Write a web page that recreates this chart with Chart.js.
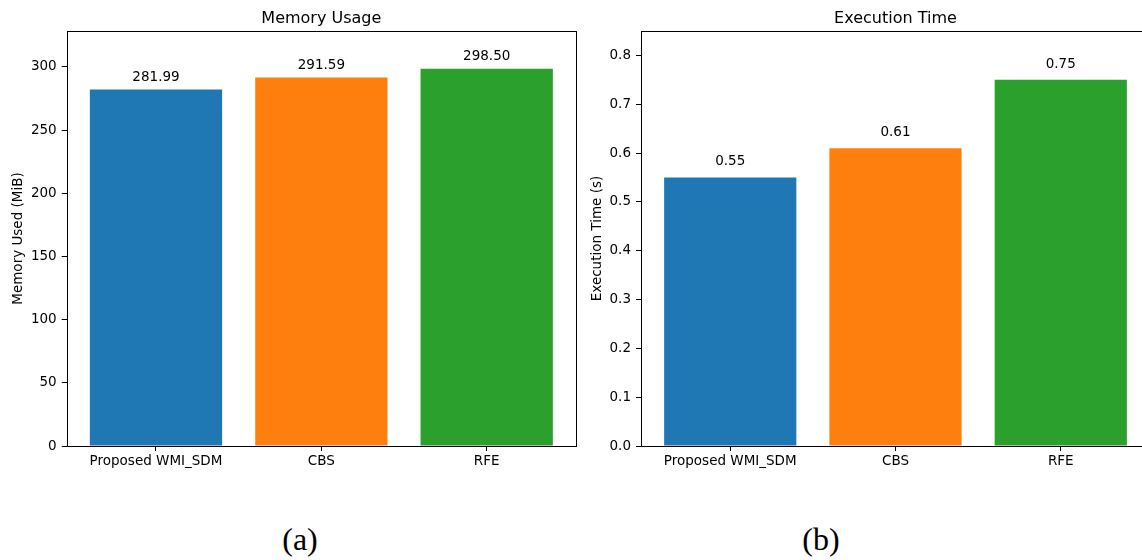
<!DOCTYPE html>
<html>
<head>
<meta charset="utf-8">
<script src="https://cdn.jsdelivr.net/npm/chart.js@4.4.1/dist/chart.umd.min.js"></script>
<style>
  html, body { margin: 0; padding: 0; background: #fff; }
  body { width: 1142px; height: 560px; overflow: hidden; position: relative; }
  .panel { position: absolute; top: 0; height: 480px; }
  #wrapA { left: 0; width: 600px; }
  #wrapB { left: 580px; width: 580px; }
  .cap { position: absolute; top: 523px; font-family: "Liberation Serif", "Times New Roman", serif;
         font-size: 32px; line-height: 1; color: #000; transform: translateX(-50%); }
</style>
</head>
<body>
<div class="panel" id="wrapA"><canvas id="memChart"></canvas></div>
<div class="panel" id="wrapB"><canvas id="timeChart"></canvas></div>
<div class="cap" style="left:300px">(a)</div>
<div class="cap" style="left:821px">(b)</div>

<script>
// data
const methods = ['Proposed WMI_SDM', 'CBS', 'RFE'];
const memoryUsed = [281.99, 291.59, 298.50];
const execTime = [0.55, 0.61, 0.75];
const memTicks = [0, 50, 100, 150, 200, 250, 300];
const timeTicks = [0.0, 0.1, 0.2, 0.3, 0.4, 0.5, 0.6, 0.7, 0.8];
const barColors = ['#1f77b4', '#ff7f0e', '#2ca02c'];

const FONT = '"DejaVu Sans", Verdana, sans-serif';
Chart.defaults.font.family = FONT;
Chart.defaults.color = '#000';

// box around the plot area, titles and value labels on the bars
const framePlugin = {
  id: 'frame',
  afterDraw(chart, args, opts) {
    const ctx = chart.ctx;
    const a = chart.chartArea;
    ctx.save();
    ctx.strokeStyle = '#000';
    ctx.lineWidth = 1;
    ctx.strokeRect(Math.round(a.left) + 0.5, Math.round(a.top) + 0.5,
                   Math.round(a.right - a.left), Math.round(a.bottom - a.top));

    ctx.fillStyle = '#000';
    ctx.textAlign = 'center';
    ctx.textBaseline = 'alphabetic';
    ctx.font = '16px ' + FONT;
    ctx.fillText(opts.title, (a.left + a.right) / 2, 23);

    ctx.font = '13.5px ' + FONT;
    ctx.save();
    ctx.translate(opts.yTitleX, (a.top + a.bottom) / 2);
    ctx.rotate(-Math.PI / 2);
    ctx.textBaseline = 'middle';
    ctx.fillText(opts.yTitle, 0, 0);
    ctx.restore();

    const meta = chart.getDatasetMeta(0);
    meta.data.forEach((bar, i) => {
      const v = chart.data.datasets[0].data[i].y;
      ctx.fillText(v.toFixed(2), bar.x, bar.y - opts.labelGap);
    });
    ctx.restore();
  }
};

function makeChart(id, values, ticks, yMax, fmt, yWidth, rightPad, frameOpts) {
  return new Chart(document.getElementById(id), {
    type: 'bar',
    data: {
      datasets: [{
        data: values.map((v, i) => ({ x: i, y: v })),
        backgroundColor: barColors,
        borderWidth: 0,
        categoryPercentage: 1.0,
        barPercentage: 0.8
      }]
    },
    options: {
      responsive: true,
      maintainAspectRatio: false,
      animation: false,
      layout: { padding: { top: 31, right: rightPad, left: 0, bottom: 0 } },
      plugins: {
        legend: { display: false },
        tooltip: { enabled: false },
        frame: frameOpts
      },
      scales: {
        x: {
          type: 'linear',
          offset: false,
          min: -0.54,
          max: 2.54,
          afterBuildTicks: (s) => { s.ticks = methods.map((m, i) => ({ value: i })); },
          afterFit: (s) => { s.height = 34; },
          ticks: {
            callback: (v) => methods[v],
            font: { size: 13.5 },
            padding: 2,
            maxRotation: 0,
            autoSkip: false
          },
          grid: { offset: false, drawOnChartArea: false, tickLength: 5, color: '#000', lineWidth: 1 },
          border: { display: false }
        },
        y: {
          min: 0,
          max: yMax,
          afterBuildTicks: (s) => { s.ticks = ticks.map(v => ({ value: v })); },
          afterFit: (s) => { s.width = yWidth; },
          ticks: { callback: fmt, font: { size: 13.5 }, padding: 5 },
          grid: { drawOnChartArea: false, tickLength: 5, color: '#000', lineWidth: 1 },
          border: { display: false }
        }
      }
    },
    plugins: [framePlugin]
  });
}

makeChart('memChart', memoryUsed, memTicks, 328.35, (v) => String(v), 66.7, 24,
  { title: 'Memory Usage', yTitle: 'Memory Used (MiB)', yTitleX: 18, labelGap: 8.5 });
makeChart('timeChart', execTime, timeTicks, 0.85, (v) => v.toFixed(1), 61, 10,
  { title: 'Execution Time', yTitle: 'Execution Time (s)', yTitleX: 17.5, labelGap: 12 });
</script>
</body>
</html>
